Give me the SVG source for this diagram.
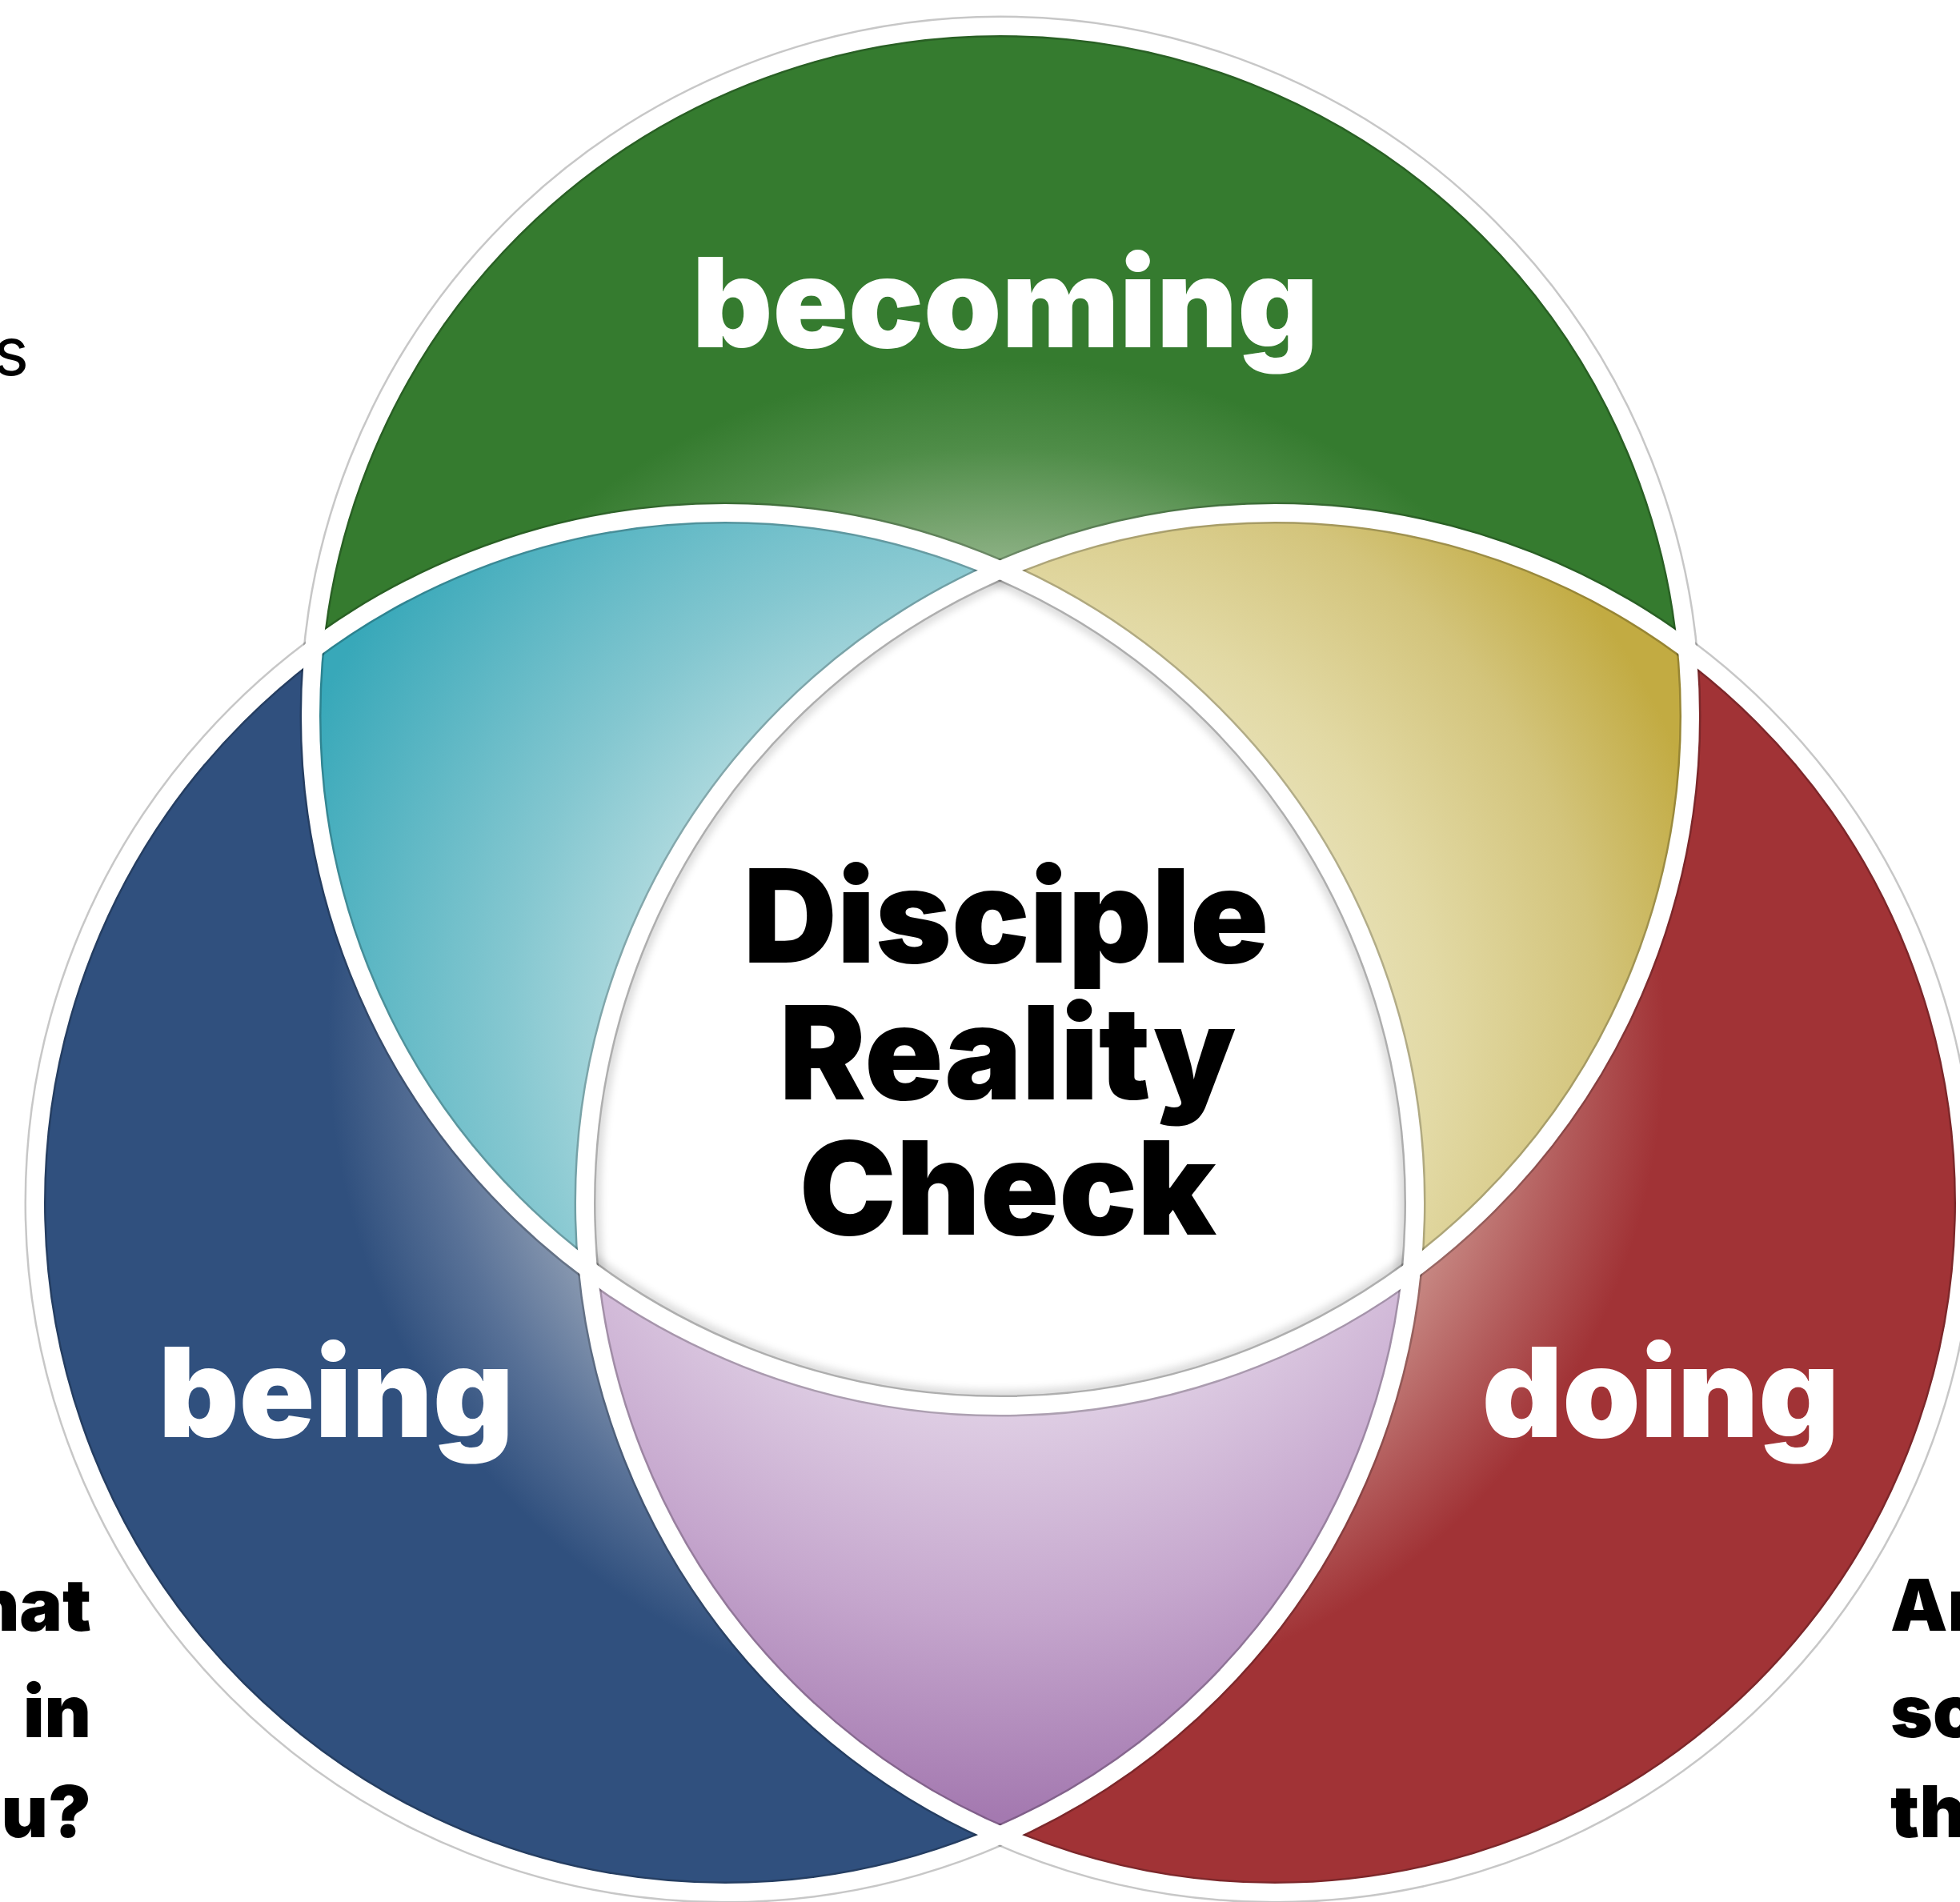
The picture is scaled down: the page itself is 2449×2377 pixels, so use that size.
<svg xmlns="http://www.w3.org/2000/svg" width="2449" height="2377" viewBox="0 0 2449 2377">
<style>
.lbl{font-family:Inter,Lato,"Open Sans","Liberation Sans",sans-serif;font-weight:900;fill:#fff;text-anchor:middle}
.ctr{font-family:Inter,Lato,"Open Sans","Liberation Sans",sans-serif;font-weight:900;fill:#000;text-anchor:middle;font-size:162px}
.side{font-family:Inter,Lato,"Open Sans","Liberation Sans",sans-serif;font-weight:900;fill:#000;font-size:90px}
.edge{fill:none;stroke:#000;stroke-opacity:0.22;stroke-width:27}
.ring{fill:none;stroke:#fff;stroke-width:22}
</style>
<defs>
<circle id="cG" cx="1250" cy="895" r="862"/>
<circle id="cB" cx="906" cy="1503" r="862"/>
<circle id="cR" cx="1593" cy="1503" r="862"/>
<clipPath id="clipG"><use href="#cG"/></clipPath>
<clipPath id="clipB"><use href="#cB"/></clipPath>
<clipPath id="clipR"><use href="#cR"/></clipPath>
<radialGradient id="gG" gradientUnits="userSpaceOnUse" cx="1250" cy="1300" r="1000">
<stop offset="0.5" stop-color="#b5cfae"/><stop offset="0.62" stop-color="#83ab7b"/><stop offset="0.74" stop-color="#4f8d48"/><stop offset="0.85" stop-color="#357b2f"/></radialGradient>
<radialGradient id="gB" gradientUnits="userSpaceOnUse" cx="1250" cy="1300" r="1000">
<stop offset="0.5" stop-color="#aab5c5"/><stop offset="0.6" stop-color="#8898b0"/><stop offset="0.72" stop-color="#587197"/><stop offset="0.84" stop-color="#30507e"/></radialGradient>
<radialGradient id="gR" gradientUnits="userSpaceOnUse" cx="1250" cy="1300" r="1000">
<stop offset="0.5" stop-color="#d8aaa6"/><stop offset="0.6" stop-color="#c78883"/><stop offset="0.72" stop-color="#b25a5a"/><stop offset="0.83" stop-color="#a13336"/></radialGradient>
<radialGradient id="gC" gradientUnits="userSpaceOnUse" cx="1250" cy="1300" r="1000">
<stop offset="0.4" stop-color="#bde0e3"/><stop offset="0.62" stop-color="#84c7d0"/><stop offset="0.95" stop-color="#38a8b9"/></radialGradient>
<radialGradient id="gY" gradientUnits="userSpaceOnUse" cx="1250" cy="1300" r="1000">
<stop offset="0.4" stop-color="#e9e3bc"/><stop offset="0.55" stop-color="#e2d9a4"/><stop offset="0.75" stop-color="#d3c47b"/><stop offset="0.92" stop-color="#c2ab42"/></radialGradient>
<radialGradient id="gP" gradientUnits="userSpaceOnUse" cx="1250" cy="1300" r="1000">
<stop offset="0.45" stop-color="#e0d0e5"/><stop offset="0.72" stop-color="#c5a6cd"/><stop offset="0.97" stop-color="#a479b0"/></radialGradient>
<filter id="soft" x="-10%" y="-10%" width="120%" height="120%"><feGaussianBlur stdDeviation="5"/></filter>
</defs>

<g id="node-becoming"><use href="#cG" fill="url(#gG)"/></g>
<g id="node-being"><use href="#cB" fill="url(#gB)"/></g>
<g id="node-doing"><use href="#cR" fill="url(#gR)"/></g>
<g id="overlap-becoming-being"><use href="#cB" fill="url(#gC)" clip-path="url(#clipG)"/></g>
<g id="overlap-becoming-doing"><use href="#cR" fill="url(#gY)" clip-path="url(#clipG)"/></g>
<g id="overlap-being-doing"><use href="#cR" fill="url(#gP)" clip-path="url(#clipB)"/></g>
<g id="node-center">
<g clip-path="url(#clipG)"><g clip-path="url(#clipB)"><g clip-path="url(#clipR)">
<rect x="0" y="0" width="2449" height="2377" fill="#fff"/>
<g filter="url(#soft)" fill="none" stroke="#000" stroke-opacity="0.13" stroke-width="40">
<use href="#cG"/><use href="#cB"/><use href="#cR"/>
</g>
</g></g></g>
</g>

<g id="rings">
<use href="#cG" class="edge"/><use href="#cB" class="edge"/><use href="#cR" class="edge"/>
<use href="#cG" class="ring"/><use href="#cB" class="ring"/><use href="#cR" class="ring"/>
</g>

<g id="labels">
<text class="lbl" x="1256" y="434" font-size="156">becoming</text>
<text class="lbl" x="420" y="1796" font-size="156">being</text>
<text class="lbl" x="2075" y="1796" font-size="156">doing</text>
<text class="ctr" x="1257" y="1203">Disciple</text>
<text class="ctr" x="1259" y="1374">Reality</text>
<text class="ctr" x="1259" y="1543">Check</text>
</g>

<g id="side-text">
<text x="36" y="469" font-family="Inter,Lato,'Open Sans','Liberation Sans',sans-serif" font-size="84" text-anchor="end" fill="#000">s</text>
<text class="side" x="114" y="2038" text-anchor="end">hat</text>
<text class="side" x="114" y="2171" text-anchor="end">in</text>
<text class="side" x="114" y="2296" text-anchor="end">ou?</text>
<text class="side" x="2362" y="2038">An</text>
<text class="side" x="2362" y="2171">so</text>
<text class="side" x="2362" y="2296">th</text>
</g>
</svg>
